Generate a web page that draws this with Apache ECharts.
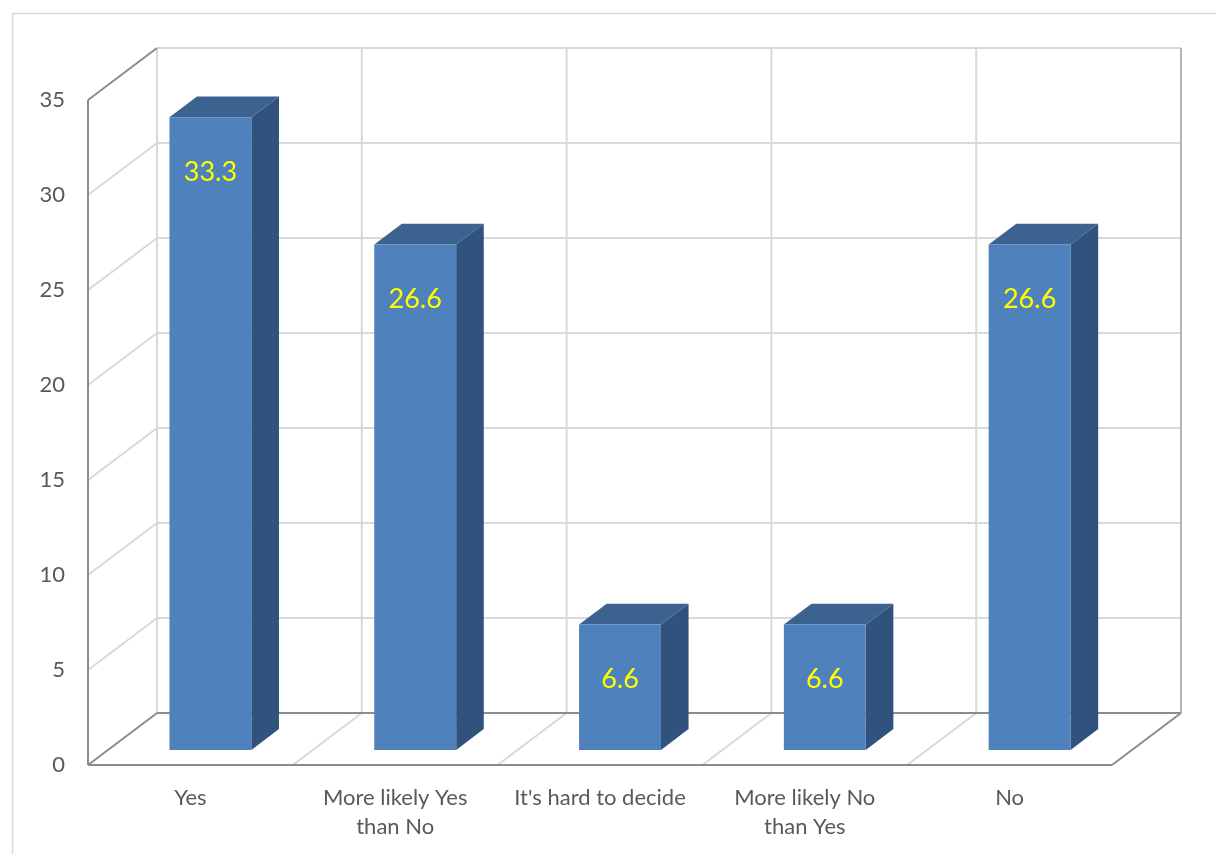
<!DOCTYPE html>
<html>
<head>
<meta charset="utf-8">
<title>Survey answers</title>
<script src="https://cdn.jsdelivr.net/npm/echarts@6/dist/echarts.min.js"></script>
<style>
  html, body { margin: 0; padding: 0; background: #ffffff; }
  #chart { width: 1216px; height: 854px; }
</style>
</head>
<body>
<div id="chart"></div>
<script>
// Answer categories and share of respondents (%)
const categories = ['Yes', 'More likely Yes\nthan No', "It's hard to decide", 'More likely No\nthan Yes', 'No'];
const values = [33.3, 26.6, 6.6, 6.6, 26.6];

// Value axis range
const yMin = 0;
const yMax = 35;
const yStep = 5;

// Pseudo-3D projection: offset from the front plane to the back wall (px)
const DEPTH = [69, -52];
const BAR_NEAR = 0.29;   // bar front face, as a fraction of the depth
const BAR_FAR = 0.69;    // bar back face
const BAR_WIDTH = 0.4;   // bar width as a fraction of the category band

const DARK = '#8c8c8c';
const LIGHT = '#d9d9d9';
const FRONT = '#4f81bd';
const TOP = '#3c6290';
const SIDE = '#30527c';

function line(x1, y1, x2, y2, stroke, w) {
  return { type: 'line', shape: { x1, y1, x2, y2 }, style: { stroke, lineWidth: w || 2 }, silent: true };
}

// Back wall, side wall and floor of the 3-D box
function renderFrame(params, api) {
  const band = api.size([1, 0])[0];
  const n = categories.length;
  const left = api.coord([0, yMin])[0] - band / 2;
  const right = api.coord([n - 1, yMin])[0] + band / 2;
  const y = v => api.coord([0, v])[1];
  const [dx, dy] = DEPTH;
  const kids = [];

  // back wall horizontal grid lines
  for (let v = yMin + yStep; v <= yMax; v += yStep) {
    kids.push(line(left + dx, y(v) + dy, right + dx, y(v) + dy, LIGHT));
  }
  // back wall verticals at category boundaries
  for (let k = 0; k <= n; k++) {
    const x = left + k * band + dx;
    kids.push(line(x, y(yMin) + dy, x, y(yMax) + dy, k === n ? '#b4b4b4' : LIGHT));
  }
  // side wall diagonals at every tick
  for (let v = yMin + yStep; v < yMax; v += yStep) {
    kids.push(line(left, y(v), left + dx, y(v) + dy, LIGHT));
  }
  // floor diagonals at category boundaries
  for (let k = 1; k < n; k++) {
    const x = left + k * band;
    kids.push(line(x, y(yMin), x + dx, y(yMin) + dy, LIGHT));
  }
  // outline edges
  kids.push(line(left, y(yMax), left + dx, y(yMax) + dy, DARK));
  kids.push(line(left, y(yMin), left, y(yMax), DARK));
  kids.push(line(left, y(yMin), left + dx, y(yMin) + dy, DARK));
  kids.push(line(left, y(yMin), right, y(yMin), DARK));
  kids.push(line(right, y(yMin), right + dx, y(yMin) + dy, DARK));
  kids.push(line(left + dx, y(yMin) + dy, right + dx, y(yMin) + dy, DARK));

  return { type: 'group', children: kids };
}

// A 3-D column: front face, top face, right side face and value label
function renderBar(params, api) {
  const cat = api.value(0);
  const val = api.value(1);
  const top = api.coord([cat, val]);
  const base = api.coord([cat, yMin]);
  const band = api.size([1, 0])[0];
  const w = band * BAR_WIDTH;
  const nx = DEPTH[0] * BAR_NEAR, ny = DEPTH[1] * BAR_NEAR;
  const dx = DEPTH[0] * (BAR_FAR - BAR_NEAR), dy = DEPTH[1] * (BAR_FAR - BAR_NEAR);
  const x0 = top[0] + nx - w / 2;
  const x1 = x0 + w;
  const yt = top[1] + ny;
  const yb = base[1] + ny;
  return {
    type: 'group',
    children: [
      { type: 'polygon', shape: { points: [[x1, yt], [x1 + dx, yt + dy], [x1 + dx, yb + dy], [x1, yb]] }, style: { fill: SIDE } },
      { type: 'polygon', shape: { points: [[x0, yt], [x1, yt], [x1 + dx, yt + dy], [x0 + dx, yt + dy]] }, style: { fill: TOP } },
      { type: 'rect', shape: { x: x0, y: yt, width: w, height: yb - yt }, style: { fill: FRONT } },
      { type: 'text', x: x0 + w / 2, y: yt + 55, style: {
          text: String(val), fill: '#ffff00', font: '27px Lato', align: 'center', verticalAlign: 'middle' } }
    ]
  };
}

const chart = echarts.init(document.getElementById('chart'), null, { renderer: 'canvas' });
chart.setOption({
  animation: false,
  backgroundColor: '#ffffff',
  graphic: [{
    type: 'rect', left: 10, top: 11, z: -10, silent: true,
    shape: { width: 1400, height: 1000 },
    style: { fill: 'none', stroke: '#d9d9d9', lineWidth: 1.5 }
  }],
  grid: { left: 88, right: 104, top: 100, bottom: 89 },
  xAxis: {
    type: 'category',
    data: categories,
    axisLine: { show: false },
    axisTick: { show: false },
    splitLine: { show: false },
    axisLabel: { margin: 18, fontFamily: 'Lato', fontSize: 22, lineHeight: 29, color: '#595959', interval: 0 }
  },
  yAxis: {
    type: 'value',
    min: yMin, max: yMax, interval: yStep,
    axisLine: { show: false },
    axisTick: { show: false },
    splitLine: { show: false },
    axisLabel: { margin: 23, fontFamily: 'Lato', fontSize: 22, color: '#595959' }
  },
  series: [
    { type: 'custom', renderItem: renderFrame, data: [[0, 0]], z: 1, silent: true, clip: false },
    { type: 'custom', renderItem: renderBar, data: values.map((v, i) => [i, v]), z: 2, clip: false }
  ]
});
</script>
</body>
</html>
